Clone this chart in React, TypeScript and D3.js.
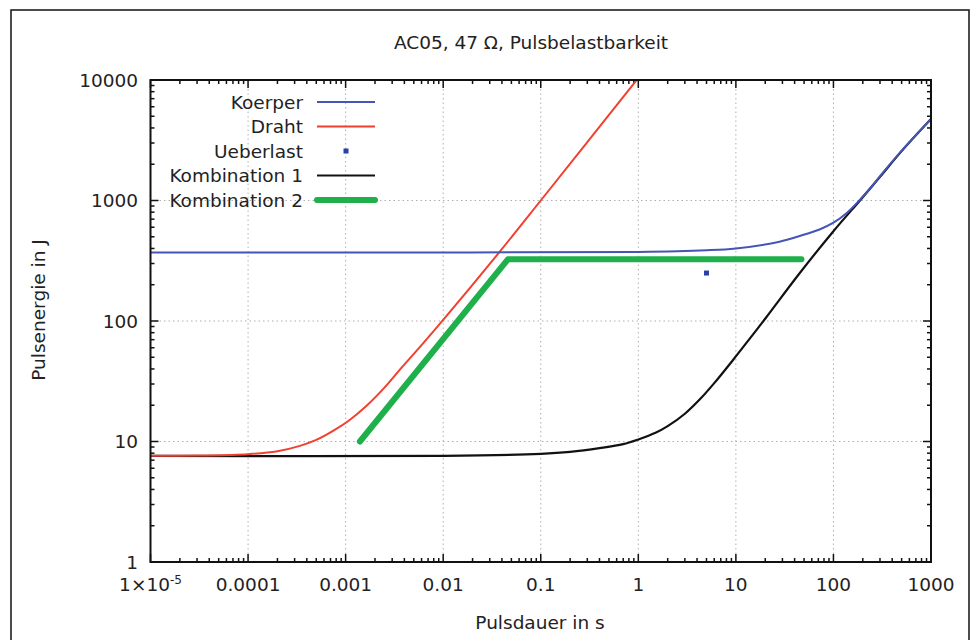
import React, { useEffect, useRef } from 'react';
import * as d3 from 'd3';

// readings: pulse duration (s) -> energy (J)
const koerperT = [1e-5, 1e-3, 1, 5, 10, 28, 46, 72, 100, 136, 186, 245, 300, 500, 1000];
const koerperE = [370, 371, 374, 386, 400, 455, 510, 575, 655, 785, 1010, 1300, 1590, 2590, 4750];

const drahtT = [1e-5, 3e-5, 1e-4, 2e-4, 3.4e-4, 5e-4, 7.5e-4, 1.1e-3, 1.64e-3, 2.5e-3, 3.6e-3, 6e-3, 0.01, 0.038, 0.1, 1];
const drahtE = [7.6, 7.65, 7.85, 8.3, 9.2, 10.3, 12.3, 15.1, 19.8, 28, 39.5, 63, 102, 376, 1000, 10400];

const ueberlastT = [5];
const ueberlastE = [250];

const komb1T = [1e-5, 0.01, 0.1, 0.2, 0.4, 0.7, 1, 1.5, 2, 3, 4.3, 6, 9.35, 14, 20.6, 45, 99, 195, 300, 500, 1000];
const komb1E = [7.6, 7.6, 7.9, 8.2, 8.8, 9.5, 10.4, 11.8, 13.4, 17, 22.5, 30.5, 47.5, 72, 108, 249, 551, 1040, 1570, 2570, 4750];

const komb2T = [0.0014, 0.046, 47];
const komb2E = [10, 325, 325];

const xTicks = [1e-5, 1e-4, 1e-3, 0.01, 0.1, 1, 10, 100, 1000];
const xTickLabels = ['1×10', '0.0001', '0.001', '0.01', '0.1', '1', '10', '100', '1000'];
const yTicks = [1, 10, 100, 1000, 10000];
const yTickLabels = ['1', '10', '100', '1000', '10000'];

const legendNames = ['Koerper', 'Draht', 'Ueberlast', 'Kombination 1', 'Kombination 2'];

const FONT = 'DejaVu Sans, Verdana, sans-serif';

const App = () => {
    const ref = useRef<SVGSVGElement>(null);

    useEffect(() => {
        const svg = d3.select(ref.current);
        svg.selectAll('*').remove();

        const left = 150.5, right = 931, top = 80, bottom = 562;
        const x = d3.scaleLog().domain([1e-5, 1000]).range([left, right]);
        const y = d3.scaleLog().domain([1, 10000]).range([bottom, top]);

        // outer frame
        svg.append('rect')
            .attr('x', 11).attr('y', 10).attr('width', 958).attr('height', 650)
            .attr('fill', 'none').attr('stroke', '#111').attr('stroke-width', 1.5);

        // title
        svg.append('text')
            .attr('x', 531).attr('y', 49)
            .attr('text-anchor', 'middle')
            .style('font-family', FONT).style('font-size', '18.5px').attr('fill', '#222')
            .text('AC05, 47 Ω, Pulsbelastbarkeit');

        // grid
        const grid = svg.append('g').attr('stroke', '#b0b0b0').attr('stroke-width', 1).attr('stroke-dasharray', '1.5,3');
        xTicks.slice(1, -1).forEach(t => {
            grid.append('line').attr('x1', x(t)).attr('x2', x(t)).attr('y1', top).attr('y2', bottom);
        });
        yTicks.slice(1, -1).forEach(t => {
            grid.append('line').attr('x1', left).attr('x2', right).attr('y1', y(t)).attr('y2', y(t));
        });

        // ticks, inward, mirrored on all sides
        const ticks = svg.append('g').attr('stroke', '#111').attr('stroke-width', 1.5);
        const minors = (lo: number, hi: number) => {
            const out: { v: number; major: boolean }[] = [];
            for (let d = lo; d <= hi * 1.0001; d *= 10) {
                out.push({ v: d, major: true });
                if (d < hi * 0.999) for (let k = 2; k <= 9; k++) out.push({ v: d * k, major: false });
            }
            return out;
        };
        minors(1e-5, 1000).forEach(({ v, major }) => {
            const len = major ? 8 : 4;
            ticks.append('line').attr('x1', x(v)).attr('x2', x(v)).attr('y1', bottom).attr('y2', bottom - len);
            ticks.append('line').attr('x1', x(v)).attr('x2', x(v)).attr('y1', top).attr('y2', top + len);
        });
        minors(1, 10000).forEach(({ v, major }) => {
            const len = major ? 8 : 4;
            ticks.append('line').attr('x1', left).attr('x2', left + len).attr('y1', y(v)).attr('y2', y(v));
            ticks.append('line').attr('x1', right).attr('x2', right - len).attr('y1', y(v)).attr('y2', y(v));
        });

        // tick labels
        xTicks.forEach((t, i) => {
            const txt = svg.append('text')
                .attr('x', x(t)).attr('y', 591)
                .attr('text-anchor', 'middle')
                .style('font-family', FONT).style('font-size', '18.5px').attr('fill', '#222')
                .text(xTickLabels[i]);
            if (i === 0) {
                txt.append('tspan').attr('dy', -7).style('font-size', '12px').text('-5');
            }
        });
        yTicks.forEach((t, i) => {
            svg.append('text')
                .attr('x', 138).attr('y', y(t) + 6.5)
                .attr('text-anchor', 'end')
                .style('font-family', FONT).style('font-size', '18.5px').attr('fill', '#222')
                .text(yTickLabels[i]);
        });

        // axis titles
        svg.append('text')
            .attr('x', 540).attr('y', 629)
            .attr('text-anchor', 'middle')
            .style('font-family', FONT).style('font-size', '18.5px').attr('fill', '#222')
            .text('Pulsdauer in s');
        svg.append('text')
            .attr('transform', 'translate(45,310) rotate(-90)')
            .attr('text-anchor', 'middle')
            .style('font-family', FONT).style('font-size', '18.5px').attr('fill', '#222')
            .text('Pulsenergie in J');

        // curves
        svg.append('clipPath').attr('id', 'plot-clip')
            .append('rect').attr('x', left).attr('y', top).attr('width', right - left).attr('height', bottom - top);
        const plot = svg.append('g').attr('clip-path', 'url(#plot-clip)');

        const smooth = d3.line<[number, number]>()
            .x(d => x(d[0])).y(d => y(d[1]))
            .curve(d3.curveCatmullRom.alpha(0.5));
        const straight = d3.line<[number, number]>()
            .x(d => x(d[0])).y(d => y(d[1]));
        const zip = (ts: number[], es: number[]) => ts.map((t, i) => [t, es[i]] as [number, number]);

        plot.append('path').datum(zip(komb2T, komb2E))
            .attr('d', straight).attr('fill', 'none')
            .attr('stroke', '#1fb04c').attr('stroke-width', 6).attr('stroke-linecap', 'round').attr('stroke-linejoin', 'round');
        plot.append('path').datum(zip(komb1T, komb1E))
            .attr('d', smooth).attr('fill', 'none')
            .attr('stroke', '#111').attr('stroke-width', 2.2);
        plot.append('path').datum(zip(drahtT, drahtE))
            .attr('d', smooth).attr('fill', 'none')
            .attr('stroke', '#f04030').attr('stroke-width', 2);
        plot.append('path').datum(zip(koerperT, koerperE))
            .attr('d', smooth).attr('fill', 'none')
            .attr('stroke', '#4455b5').attr('stroke-width', 2);
        plot.selectAll('.ueberlast')
            .data(zip(ueberlastT, ueberlastE))
            .enter().append('rect')
            .attr('class', 'ueberlast')
            .attr('x', d => x(d[0]) - 2.5).attr('y', d => y(d[1]) - 2.5)
            .attr('width', 5).attr('height', 5)
            .attr('fill', '#2a40a8');

        // border
        svg.append('rect')
            .attr('x', left).attr('y', top).attr('width', right - left).attr('height', bottom - top)
            .attr('fill', 'none').attr('stroke', '#111').attr('stroke-width', 2);

        // legend
        const legendStyles = [
            { color: '#4455b5', width: 2, kind: 'line' },
            { color: '#f04030', width: 2, kind: 'line' },
            { color: '#2a40a8', width: 0, kind: 'point' },
            { color: '#111', width: 2.2, kind: 'line' },
            { color: '#1fb04c', width: 6, kind: 'line' },
        ];
        legendNames.forEach((name, i) => {
            const ly = 102 + i * 24.5;
            svg.append('text')
                .attr('x', 303).attr('y', ly + 6.5)
                .attr('text-anchor', 'end')
                .style('font-family', FONT).style('font-size', '18.5px').attr('fill', '#222')
                .text(name);
            const s = legendStyles[i];
            if (s.kind === 'line') {
                svg.append('line')
                    .attr('x1', 317).attr('x2', 375).attr('y1', ly).attr('y2', ly)
                    .attr('stroke', s.color).attr('stroke-width', s.width).attr('stroke-linecap', i === 4 ? 'round' : 'butt');
            } else {
                svg.append('rect').attr('x', 343.5).attr('y', ly - 2.5).attr('width', 5).attr('height', 5).attr('fill', s.color);
            }
        });
    }, []);

    return (
        <div style={{ position: 'absolute', left: 0, top: 0 }}>
            <svg ref={ref} width={971} height={640} style={{ display: 'block', background: '#fff' }} />
        </div>
    );
};

export default App;
